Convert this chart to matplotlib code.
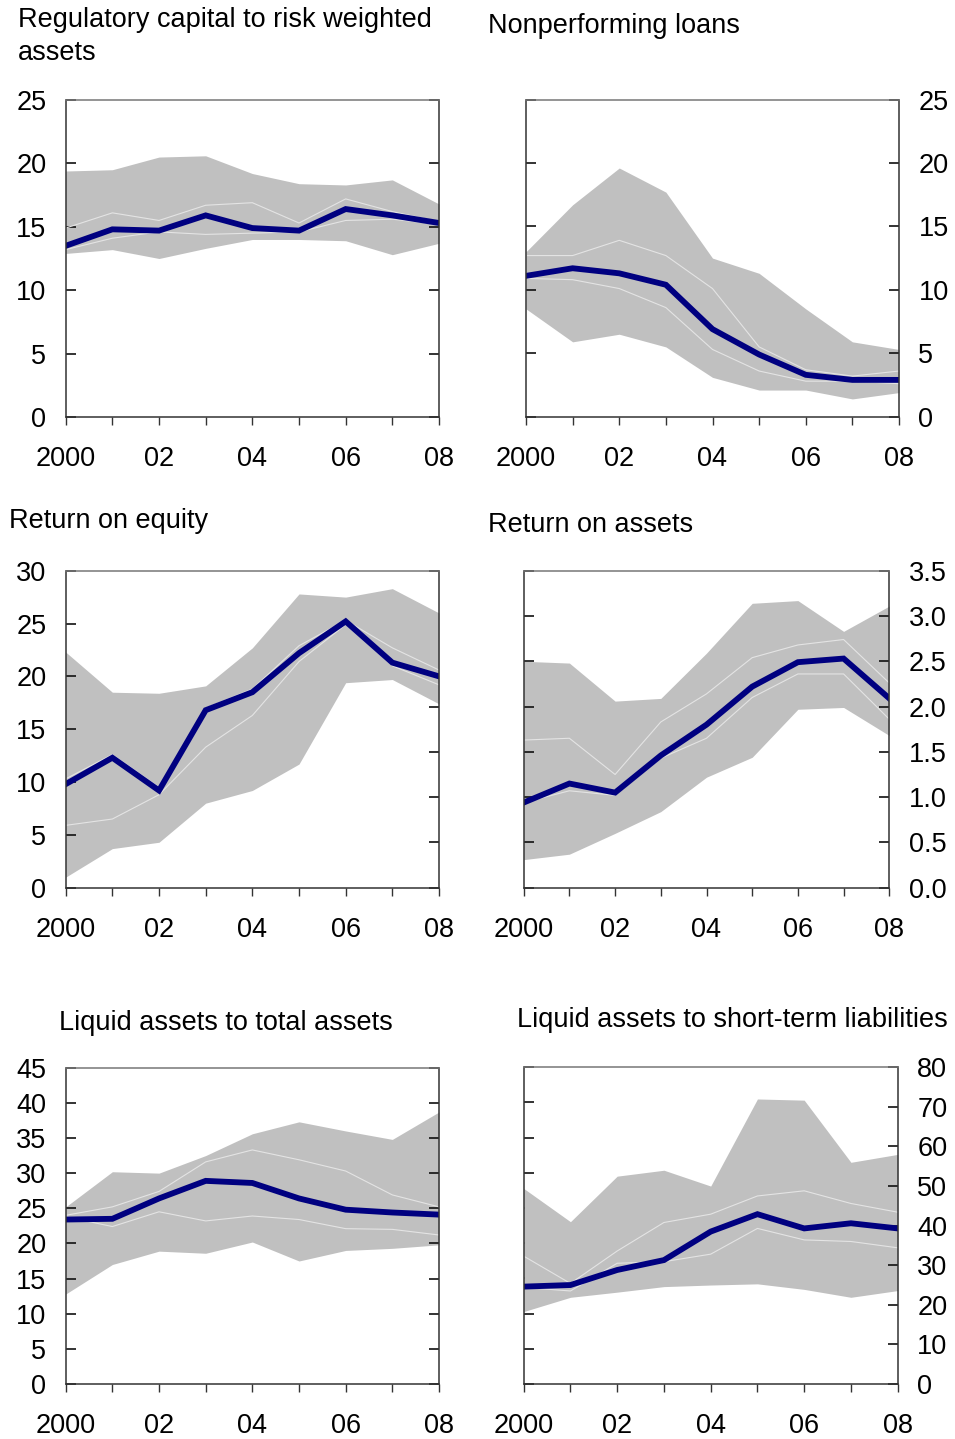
import numpy as np
import matplotlib
matplotlib.use("Agg")
import matplotlib.pyplot as plt

plt.rcParams['font.family'] = ['Liberation Sans', 'DejaVu Sans']
plt.rcParams['font.size'] = 19.5

years = np.arange(2000, 2009)
year_labels = ['2000', '', '02', '', '04', '', '06', '', '08']

# regulatory capital to risk weighted assets
car_hi = [19.4, 19.5, 20.5, 20.6, 19.2, 18.4, 18.3, 18.7, 16.8]
car_q3 = [14.9, 16.1, 15.5, 16.7, 16.9, 15.3, 17.2, 16.2, 15.4]
car_med = [13.5, 14.8, 14.7, 15.9, 14.9, 14.7, 16.4, 15.9, 15.3]
car_q1 = [13.2, 14.1, 14.6, 14.4, 14.5, 14.6, 15.5, 15.6, 15.2]
car_lo = [12.9, 13.2, 12.5, 13.3, 14.0, 14.0, 13.9, 12.8, 13.7]

# nonperforming loans
npl_hi = [13.0, 16.7, 19.6, 17.7, 12.5, 11.3, 8.5, 5.9, 5.3]
npl_q3 = [12.7, 12.7, 13.9, 12.7, 10.1, 5.5, 3.7, 3.2, 3.6]
npl_med = [11.1, 11.7, 11.3, 10.4, 6.9, 4.9, 3.3, 2.9, 2.9]
npl_q1 = [10.9, 10.8, 10.1, 8.6, 5.3, 3.6, 2.8, 2.8, 2.6]
npl_lo = [8.5, 5.9, 6.5, 5.5, 3.1, 2.1, 2.1, 1.4, 1.9]

# return on equity
roe_hi = [22.3, 18.5, 18.4, 19.1, 22.7, 27.8, 27.5, 28.3, 26.0]
roe_q3 = [10.3, 12.6, 9.5, 17.0, 18.8, 22.9, 25.3, 22.7, 20.6]
roe_med = [9.8, 12.3, 9.2, 16.8, 18.5, 22.2, 25.2, 21.3, 20.0]
roe_q1 = [5.9, 6.5, 8.8, 13.3, 16.3, 21.4, 24.9, 21.0, 19.2]
roe_lo = [1.0, 3.7, 4.3, 8.0, 9.2, 11.7, 19.4, 19.7, 17.4]

# return on assets
roa_hi = [2.50, 2.48, 2.06, 2.09, 2.59, 3.14, 3.17, 2.83, 3.11]
roa_q3 = [1.63, 1.65, 1.25, 1.83, 2.14, 2.54, 2.68, 2.74, 2.26]
roa_med = [0.94, 1.15, 1.05, 1.46, 1.80, 2.22, 2.49, 2.53, 2.09]
roa_q1 = [0.94, 1.07, 1.02, 1.43, 1.65, 2.10, 2.36, 2.36, 1.86]
roa_lo = [0.31, 0.37, 0.60, 0.84, 1.22, 1.44, 1.97, 1.99, 1.68]

# liquid assets to total assets
lta_hi = [25.2, 30.2, 30.0, 32.5, 35.6, 37.3, 36.0, 34.8, 38.7]
lta_q3 = [24.0, 25.2, 27.4, 31.6, 33.3, 31.9, 30.3, 26.9, 25.2]
lta_med = [23.4, 23.5, 26.4, 28.9, 28.6, 26.4, 24.8, 24.4, 24.1]
lta_q1 = [23.8, 22.4, 24.5, 23.2, 23.9, 23.4, 22.1, 22.0, 21.2]
lta_lo = [12.8, 17.0, 18.9, 18.6, 20.2, 17.5, 19.0, 19.3, 19.8]

# liquid assets to short-term liabilities
lsl_hi = [49.4, 41.0, 52.5, 54.0, 50.0, 72.0, 71.7, 56.0, 58.0]
lsl_q3 = [32.3, 25.4, 33.6, 40.8, 42.9, 47.5, 48.8, 45.6, 43.4]
lsl_med = [24.6, 25.0, 28.8, 31.3, 38.5, 42.9, 39.3, 40.6, 39.3]
lsl_q1 = [24.4, 23.5, 30.5, 30.9, 32.8, 39.3, 36.4, 36.0, 34.4]
lsl_lo = [18.3, 21.9, 23.2, 24.6, 25.0, 25.3, 23.9, 21.9, 23.6]

W, H = 955, 1439
fig = plt.figure(figsize=(W / 100, H / 100), dpi=100)


def px_rect(l, r, t, b):
    return [l / W, 1 - b / H, (r - l) / W, (b - t) / H]


def panel(rect, lo, q1, med, q3, hi, ymax, ystep, label_side):
    ax = fig.add_axes(rect)
    ax.fill_between(years, lo, hi, color='#c0c0c0', lw=0)
    ax.plot(years, q1, color='#e4e4e4', lw=0.8)
    ax.plot(years, q3, color='#e4e4e4', lw=0.8)
    ax.plot(years, med, color='#000080', lw=4.2, solid_joinstyle='miter')
    ax.set_xlim(2000, 2008)
    ax.set_ylim(0, ymax)
    ax.set_xticks(years)
    ax.set_xticklabels(year_labels)
    yt = np.round(np.arange(0, ymax + ystep / 2, ystep), 2)
    ax.set_yticks(yt)
    if ystep < 1:
        ax.set_yticklabels(['%.1f' % v for v in yt])
    ax.tick_params(axis='x', direction='out', length=6, width=1, pad=15,
                   color='#333333')
    ax.tick_params(axis='y', direction='in', length=7, width=1.2, pad=14,
                   color='#111111', left=True, right=True,
                   labelleft=(label_side == 'left'),
                   labelright=(label_side == 'right'))
    for s in ax.spines.values():
        s.set_color('#333333')
        s.set_linewidth(1.1)
    ax.spines['top'].set_color('#777777')
    return ax


ax1 = panel(px_rect(65.7, 439, 100, 417), car_lo, car_q1, car_med, car_q3, car_hi,
            25, 5, 'left')
ax2 = panel(px_rect(526, 899, 99.5, 416.7), npl_lo, npl_q1, npl_med, npl_q3, npl_hi,
            25, 5, 'right')
ax3 = panel(px_rect(65.7, 439, 570.7, 887.7), roe_lo, roe_q1, roe_med, roe_q3, roe_hi,
            30, 5, 'left')
ax4 = panel(px_rect(523.7, 889.3, 570.7, 887.7), roa_lo, roa_q1, roa_med, roa_q3, roa_hi,
            3.5, 0.5, 'right')
ax5 = panel(px_rect(65.7, 439, 1067.7, 1384), lta_lo, lta_q1, lta_med, lta_q3, lta_hi,
            45, 5, 'left')
ax6 = panel(px_rect(523.7, 897.7, 1067.3, 1384), lsl_lo, lsl_q1, lsl_med, lsl_q3, lsl_hi,
            80, 10, 'right')

# right edge of the equity panel carries the return-on-assets tick spacing
ax3.tick_params(axis='y', right=False)
sec3 = ax3.secondary_yaxis('right', functions=(lambda y: y * 3.5 / 30,
                                               lambda y: y * 30 / 3.5))
sec3.set_yticks(np.arange(0, 3.51, 0.5))
sec3.tick_params(direction='in', length=7, width=1.2, color='#111111', labelright=False)
sec3.spines['right'].set_visible(False)

# left edge of the short-term liabilities panel uses the 0-45 spacing
ax6.tick_params(axis='y', left=False)
sec6 = ax6.secondary_yaxis('left', functions=(lambda y: y * 45 / 80,
                                              lambda y: y * 80 / 45))
sec6.set_yticks(np.arange(0, 46, 5))
sec6.tick_params(direction='in', length=7, width=1.2, color='#111111', labelleft=False)
sec6.spines['left'].set_visible(False)

# panel titles
fig.text(18 / W, 1 - 26.7 / H, 'Regulatory capital to risk weighted', va='baseline')
fig.text(18 / W, 1 - 60 / H, 'assets', va='baseline')
fig.text(488 / W, 1 - 33 / H, 'Nonperforming loans', va='baseline')
fig.text(9 / W, 1 - 528 / H, 'Return on equity', va='baseline')
fig.text(488 / W, 1 - 532 / H, 'Return on assets', va='baseline')
fig.text(59 / W, 1 - 1030 / H, 'Liquid assets to total assets', va='baseline')
fig.text(517 / W, 1 - 1027 / H, 'Liquid assets to short-term liabilities', va='baseline')

fig.savefig('out.png', dpi=100)
